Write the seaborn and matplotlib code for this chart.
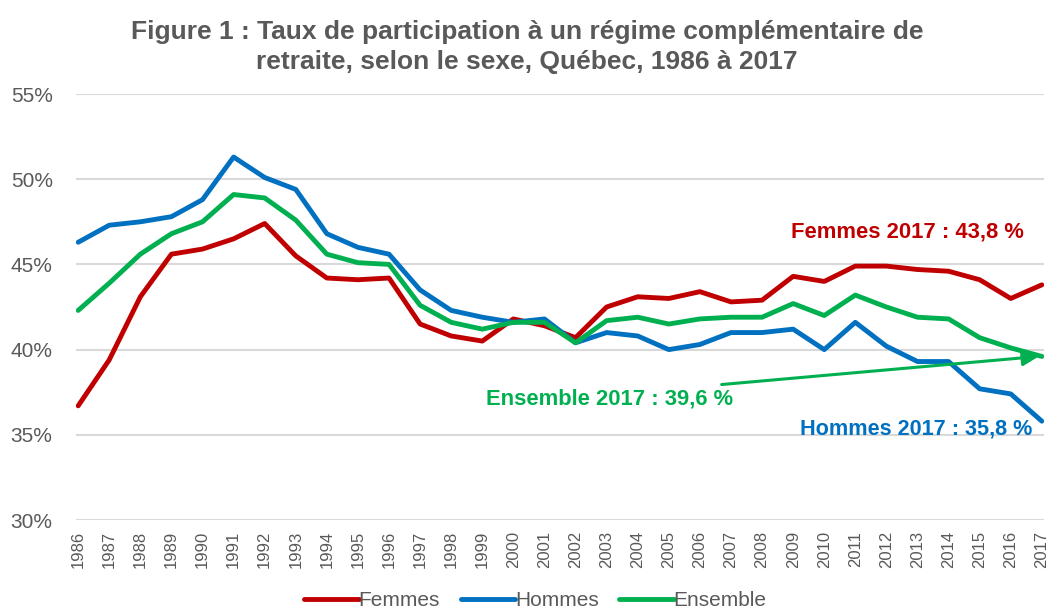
import matplotlib
matplotlib.use("Agg")
import matplotlib.pyplot as plt
import seaborn as sns
import pandas as pd
from matplotlib.lines import Line2D

years = list(range(1986, 2018))
femmes = [36.7, 39.4, 43.1, 45.6, 45.9, 46.5, 47.4, 45.5, 44.2, 44.1, 44.2,
          41.5, 40.8, 40.5, 41.8, 41.4, 40.7, 42.5, 43.1, 43.0, 43.4,
          42.8, 42.9, 44.3, 44.0, 44.9, 44.9, 44.7, 44.6, 44.1, 43.0, 43.8]
hommes = [46.3, 47.3, 47.5, 47.8, 48.8, 51.3, 50.1, 49.4, 46.8, 46.0, 45.6,
          43.5, 42.3, 41.9, 41.6, 41.8, 40.4, 41.0, 40.8, 40.0, 40.3,
          41.0, 41.0, 41.2, 40.0, 41.6, 40.2, 39.3, 39.3, 37.7, 37.4, 35.8]
ensemble = [42.3, 43.9, 45.6, 46.8, 47.5, 49.1, 48.9, 47.6, 45.6, 45.1, 45.0,
            42.6, 41.6, 41.2, 41.6, 41.6, 40.4, 41.7, 41.9, 41.5, 41.8,
            41.9, 41.9, 42.7, 42.0, 43.2, 42.5, 41.9, 41.8, 40.7, 40.1, 39.6]
series_names = ["Femmes", "Hommes", "Ensemble"]
colors = {"Femmes": "#C00000", "Hommes": "#0070C0", "Ensemble": "#00B050"}
yticks = [30, 35, 40, 45, 50, 55]
title = ("Figure 1 : Taux de participation à un régime complémentaire de\n"
         "retraite, selon le sexe, Québec, 1986 à 2017")

df = pd.DataFrame({
    "Année": years * 3,
    "Taux": femmes + hommes + ensemble,
    "Série": ["Femmes"] * len(years) + ["Hommes"] * len(years) + ["Ensemble"] * len(years),
})

sns.set_style("white")
plt.rcParams["font.family"] = ["Liberation Sans", "DejaVu Sans"]

fig = plt.figure(figsize=(10.5, 6.14), dpi=100)
ax = fig.add_axes([76 / 1050, 1 - 520 / 614, (1044 - 76) / 1050, (520 - 94) / 614])

sns.lineplot(data=df, x="Année", y="Taux", hue="Série", hue_order=series_names,
             palette=colors, linewidth=3.5, ax=ax, legend=False, zorder=3)

ax.set_xlim(1985.93, 2017.07)
ax.set_ylim(30, 55)
ax.set_yticks(yticks)
ax.set_yticklabels([f"{v}%" for v in yticks])
ax.set_xticks(years)
ax.set_xticklabels([str(y) for y in years], rotation=90)
ax.tick_params(axis="y", labelsize=15, colors="#595959", length=0, pad=47)
ax.tick_params(axis="x", labelsize=12, colors="#595959", length=0, pad=8)
for lbl in ax.get_yticklabels():
    lbl.set_horizontalalignment("left")
ax.grid(axis="y", color="#D9D9D9", linewidth=1.5, zorder=0)
ax.grid(axis="x", visible=False)
for s in ax.spines.values():
    s.set_visible(False)
ax.set_xlabel("")
ax.set_ylabel("")

fig.text(0.502, 1 - 47 / 614, title, ha="center", va="center", fontsize=19,
         fontweight="bold", color="#595959", linespacing=1.35)

ax.text(2012.69, 46.88, "Femmes 2017 : 43,8 %", color="#C00000", fontsize=15.8,
        fontweight="bold", ha="center", va="center")
ax.text(2003.1, 37.12, "Ensemble 2017 : 39,6 %", color="#00B050", fontsize=15.8,
        fontweight="bold", ha="center", va="center")
ax.text(2012.95, 35.35, "Hommes 2017 : 35,8 %", color="#0070C0", fontsize=15.6,
        fontweight="bold", ha="center", va="center")
ax.annotate("", xy=(2016.9, 39.6), xytext=(2006.7, 37.95),
            arrowprops=dict(arrowstyle="-|>", color="#00B050", lw=2.2,
                            mutation_scale=24, shrinkA=0, shrinkB=0))

handles = [Line2D([0], [0], color=colors[n], lw=3.5) for n in series_names]
fig.legend(handles, series_names, loc="center", bbox_to_anchor=(0.51, 0.022),
           ncol=3, frameon=False, fontsize=15, handlelength=2.6,
           handletextpad=0.0, columnspacing=1.0, labelcolor="#595959")

fig.savefig("out.png", dpi=100)
